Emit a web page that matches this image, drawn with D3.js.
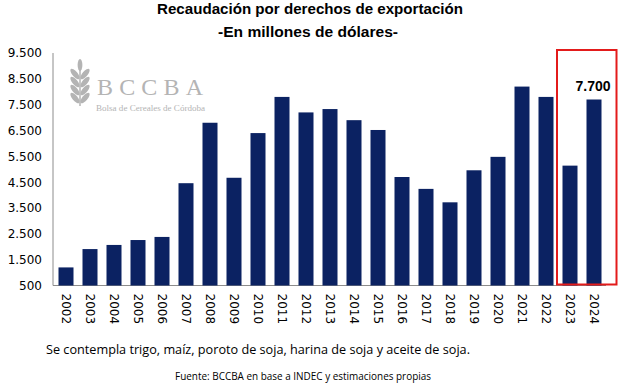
<!DOCTYPE html>
<html>
<head>
<meta charset="utf-8">
<script src="https://cdn.jsdelivr.net/npm/d3@7"></script>
<style>
  body { margin: 0; background: #fff; }
  svg { display: block; }
</style>
</head>
<body>
<div id="plot"></div>
<script>
// data (millones de USD)
var years = ["2002","2003","2004","2005","2006","2007","2008","2009","2010","2011","2012",
             "2013","2014","2015","2016","2017","2018","2019","2020","2021","2022","2023","2024"]
var values = [1200, 1910, 2070, 2260, 2380, 4460, 6800, 4670, 6400, 7800, 7200,
              7330, 6900, 6520, 4700, 4240, 3720, 4960, 5480, 8200, 7800, 5140, 7700]
var yTicks = [500, 1500, 2500, 3500, 4500, 5500, 6500, 7500, 8500, 9500]
var highlight = ["2023", "2024"]
var labelYear = "2024"

var width = 640, height = 385

var svg = d3.select("#plot").append("svg")
    .attr("width", width)
    .attr("height", height)

var fmt = d3.formatLocale({decimal: ",", thousands: ".", grouping: [3], currency: ["$", ""]}).format(",d")

// scales
var x = d3.scaleBand()
    .domain(years)
    .range([54, 606])
    .paddingInner(0.375)
    .paddingOuter(0.1875)

var y = d3.scaleLinear()
    .domain([500, 9500])
    .range([285.5, 53])

// title
svg.append("text")
    .attr("x", 157).attr("y", 14)
    .attr("textLength", 306).attr("lengthAdjust", "spacingAndGlyphs")
    .style("font-family", "Liberation Sans, Arial, sans-serif")
    .style("font-weight", "bold")
    .style("font-size", "14.5px")
    .text("Recaudación por derechos de exportación")

svg.append("text")
    .attr("x", 218).attr("y", 37)
    .attr("textLength", 180).attr("lengthAdjust", "spacingAndGlyphs")
    .style("font-family", "Liberation Sans, Arial, sans-serif")
    .style("font-weight", "bold")
    .style("font-size", "14.5px")
    .text("-En millones de dólares-")

// logo (watermark)
var logo = svg.append("g").attr("fill", "#b4b4b4")
var stem = logo.append("g").attr("transform", "translate(80,106)")
stem.append("path")
    .attr("d", "M0,0 L0,-40")
    .attr("stroke", "#b4b4b4").attr("stroke-width", 1.5)
;[0, 1, 2, 3].forEach(function (i) {
    var yy = -8 - i * 8
    stem.append("ellipse").attr("cx", -5).attr("cy", yy).attr("rx", 2.6).attr("ry", 6.5)
        .attr("transform", "rotate(-40," + (-5) + "," + yy + ")")
    stem.append("ellipse").attr("cx", 5).attr("cy", yy).attr("rx", 2.6).attr("ry", 6.5)
        .attr("transform", "rotate(40," + 5 + "," + yy + ")")
})
stem.append("ellipse").attr("cx", 0).attr("cy", -41).attr("rx", 2.4).attr("ry", 6)
logo.append("text")
    .attr("x", 97).attr("y", 95)
    .attr("textLength", 106).attr("lengthAdjust", "spacing")
    .style("font-family", "Liberation Serif, Times New Roman, serif")
    .style("font-size", "24px")
    .text("BCCBA")
logo.append("text")
    .attr("x", 96).attr("y", 111)
    .attr("textLength", 109).attr("lengthAdjust", "spacingAndGlyphs")
    .style("font-family", "Liberation Serif, Times New Roman, serif")
    .style("font-size", "9px")
    .text("Bolsa de Cereales de Córdoba")

// axes
var yAxis = svg.append("g")
    .attr("transform", "translate(53,0)")
    .call(d3.axisLeft(y).tickValues(yTicks).tickSize(0).tickPadding(11).tickFormat(fmt))
yAxis.select(".domain").attr("stroke", "#8c8c8c").attr("d", "M0," + y(9500) + "V" + y(500))
yAxis.selectAll("text")
    .style("font-family", "DejaVu Sans, Verdana, sans-serif")
    .style("font-size", "12px")
    .attr("fill", "#000")

var xAxis = svg.append("g")
    .attr("transform", "translate(0," + y(500) + ")")
    .call(d3.axisBottom(x).tickSize(0).tickPadding(0))
xAxis.select(".domain").attr("stroke", "#8c8c8c").attr("d", "M53,0H606")
xAxis.selectAll("text")
    .style("font-family", "DejaVu Sans, Verdana, sans-serif")
    .style("font-size", "12px")
    .attr("fill", "#000")
    .attr("text-anchor", "start")
    .attr("transform", "rotate(90)")
    .attr("x", 8)
    .attr("y", 0)
    .attr("dy", "0.35em")

// bars
svg.selectAll(".bar")
    .data(years)
    .enter().append("rect")
    .attr("class", "bar")
    .attr("x", function (d) { return x(d) })
    .attr("y", function (d, i) { return y(values[i]) })
    .attr("width", x.bandwidth())
    .attr("height", function (d, i) { return y(500) - y(values[i]) })
    .attr("fill", "#0b2262")

// highlight box for the last two years
var hx0 = x(highlight[0]) - 5.5
var hx1 = x(highlight[1]) + x.bandwidth() + 15
svg.append("rect")
    .attr("x", hx0)
    .attr("y", y(9500) - 3)
    .attr("width", hx1 - hx0)
    .attr("height", y(500) - y(9500) + 2)
    .attr("fill", "none")
    .attr("stroke", "#e31b1b")
    .attr("stroke-width", 2)

var li = years.indexOf(labelYear)
svg.append("text")
    .attr("x", x(labelYear) + x.bandwidth() + 9)
    .attr("y", y(values[li]) - 9)
    .attr("text-anchor", "end")
    .style("font-family", "Liberation Sans, Arial, sans-serif")
    .style("font-weight", "bold")
    .style("font-size", "14px")
    .text(fmt(values[li]))

// notes
svg.append("text")
    .attr("x", 46).attr("y", 354)
    .attr("textLength", 424).attr("lengthAdjust", "spacingAndGlyphs")
    .style("font-family", "Open Sans, Liberation Sans, sans-serif")
    .style("font-size", "12.5px")
    .text("Se contempla trigo, maíz, poroto de soja, harina de soja y aceite de soja.")

svg.append("text")
    .attr("x", 175).attr("y", 380)
    .attr("textLength", 256).attr("lengthAdjust", "spacingAndGlyphs")
    .style("font-family", "Open Sans, Liberation Sans, sans-serif")
    .style("font-size", "10px")
    .text("Fuente: BCCBA en base a INDEC y estimaciones propias")
</script>
</body>
</html>
